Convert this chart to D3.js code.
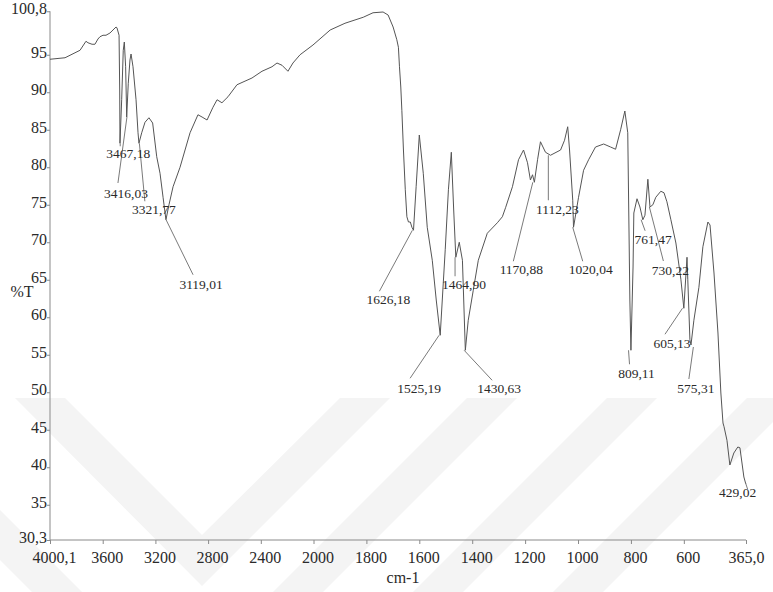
<!DOCTYPE html>
<html>
<head>
<meta charset="utf-8">
<script src="https://cdn.jsdelivr.net/npm/d3@7"></script>
<style>
  html, body { margin: 0; padding: 0; background: #fff; }
  svg, svg text { font-family: "Liberation Serif", "DejaVu Serif", "Times New Roman", serif !important; }
</style>
</head>
<body>
<div id="chart"></div>
<script>
// spectrum: wavenumber (cm-1) and %T
const wavenumber = [
  4000, 3886, 3772, 3727, 3712, 3681, 3659, 3636, 3621, 3598, 3575, 3545, 3499, 3492, 3476, 3471, 3469,
  3456, 3444, 3436, 3426, 3418, 3406, 3393, 3385, 3370, 3347, 3332, 3325, 3304, 3279, 3249, 3221, 3190,
  3165, 3142, 3120, 3097, 3066, 3013, 2937, 2877, 2846, 2808, 2763, 2732, 2695, 2649, 2581, 2467, 2391,
  2315, 2277, 2239, 2194, 2156, 2102, 2004, 1937, 1881, 1812, 1775, 1737, 1718, 1699, 1685, 1679, 1675,
  1670, 1666, 1660, 1653, 1647, 1641, 1634, 1628, 1622, 1612, 1600, 1585, 1570, 1551, 1536, 1521, 1502,
  1490, 1479, 1470, 1462, 1449, 1437, 1426, 1415, 1396, 1377, 1343, 1305, 1286, 1274, 1248, 1225, 1206,
  1191, 1180, 1172, 1165, 1153, 1142, 1123, 1104, 1066, 1051, 1039, 1032, 1020, 1017, 998, 979, 960,
  934, 903, 877, 858, 839, 823, 812, 804, 800, 792, 789, 777, 766, 755, 747, 736, 728, 717, 706, 687,
  675, 664, 649, 630, 611, 600, 588, 585, 577, 573, 562, 543, 528, 509, 501, 486, 471, 460, 452, 448,
  437, 426, 411, 396, 388, 373, 366
];
const transmittance = [
  94.4, 94.6, 95.6, 96.8, 96.6, 96.4, 96.4, 97.1, 97.4, 97.6, 97.6, 97.9, 98.7, 98.6, 97.6, 90.3, 83.2,
  89.0, 95.6, 96.7, 93.4, 86.7, 91.2, 94.3, 95.1, 93.4, 89.0, 84.6, 83.2, 84.6, 86.0, 86.6, 85.9, 81.4,
  79.2, 76.0, 73.0, 75.0, 77.4, 80.0, 84.6, 87.0, 86.7, 86.3, 88.0, 89.0, 88.6, 89.4, 91.0, 91.9, 92.8,
  93.4, 93.9, 93.6, 92.8, 93.9, 95.0, 96.3, 98.3, 99.2, 100.0, 100.6, 100.7, 100.3, 98.7, 97.0, 96.0, 93.4,
  90.7, 87.6, 82.3, 77.0, 73.4, 72.7, 72.7, 72.0, 71.6, 77.4, 84.3, 79.2, 72.0, 67.6, 62.3, 57.6, 69.0,
  77.0, 82.0, 74.3, 68.0, 70.0, 67.6, 55.6, 59.6, 63.6, 67.6, 71.2, 72.6, 73.4, 74.6, 77.4, 81.0, 82.3,
  80.6, 78.3, 79.0, 78.0, 81.0, 83.4, 82.0, 81.6, 82.3, 83.6, 85.4, 82.3, 75.6, 72.0, 76.0, 79.6, 81.0,
  82.7, 83.1, 82.7, 82.4, 85.0, 87.5, 84.6, 62.3, 55.6, 66.7, 73.9, 75.8, 74.7, 73.0, 73.6, 78.4, 74.7, 75.0, 76.0, 76.8,
  76.6, 75.4, 73.0, 69.9, 65.0, 61.2, 68.0, 65.0, 57.0, 56.3, 59.6, 64.0, 69.4, 72.7, 72.3, 65.9, 57.9, 49.9, 45.9, 45.4,
  43.6, 40.3, 41.9, 42.7, 42.6, 38.7, 37.8
];

// peak annotations
const peakWavenumber = [3467.18, 3416.03, 3321.77, 3119.01, 1626.18, 1525.19, 1464.90, 1430.63,
  1170.88, 1112.23, 1020.04, 809.11, 761.47, 730.22, 605.13, 575.31, 429.02];
const peakTransmittance = [83.2, 86.7, 83.2, 73.0, 71.6, 57.6, 68.0, 55.6,
  78.0, 81.6, 72.0, 55.6, 73.0, 74.7, 61.2, 56.3, 40.3];
const peakLabels = ["3467,18", "3416,03", "3321,77", "3119,01", "1626,18", "1525,19", "1464,90", "1430,63",
  "1170,88", "1112,23", "1020,04", "809,11", "761,47", "730,22", "605,13", "575,31", "429,02"];

// axis ticks
const xTicks = [4000.1, 3600, 3200, 2800, 2400, 2000, 1800, 1600, 1400, 1200, 1000, 800, 600, 365.0];
const xTickLabels = ["4000,1", "3600", "3200", "2800", "2400", "2000", "1800", "1600", "1400", "1200", "1000", "800", "600", "365,0"];
const yTicks = [100.8, 95, 90, 85, 80, 75, 70, 65, 60, 55, 50, 45, 40, 35, 30.3];
const yTickLabels = ["100,8", "95", "90", "85", "80", "75", "70", "65", "60", "55", "50", "45", "40", "35", "30,3"];

// label placement: [text dx, text dy, leader from dx, dy, leader to dx, dy] relative to the peak point
const labelLayout = [
  [8, 15, 0, 0, 0, 3], [-1, 81, 0, 0, -9, 66], [14.5, 71, 0, 0, 5.5, 58], [35, 69, 0, 0, 27, 55],
  [-24, 74, 0, 0, -33, 61], [-20, 58, 0, 0, -29, 43], [9, 32, 0, 0, 0, 19], [35, 43, 0, 0, 28, 30],
  [-11.5, 92, 0, 0, -19.5, 79], [9, 59, 0, 0, 0, 45], [18, 47, 0, 0, 10, 34], [8, 28, 0, 0, 1, 14],
  [12, 24, 0, 0, 4, 11], [21, 68, 0, 0, 14, 54], [-10.5, 40, 0, 0, -17.5, 26], [5.5, 48, 3, 2, -1.5, 34],
  [8.5, 32, 16.5, 18, 18.5, 24]
];

const W = 773, H = 592;
const serif = '"Liberation Serif", "DejaVu Serif", serif';
const svg = d3.select("#chart").append("svg")
  .attr("width", W).attr("height", H)
  .attr("viewBox", `0 0 ${W} ${H}`)
  .style("font-family", serif);

// faint watermark chevrons in the lower part
const wm = svg.append("g").attr("fill", "#f4f4f4");
[
  [[15, 398], [65, 398], [202, 535], [340, 398], [390, 398], [202, 586]],
  [[0, 510], [0, 560], [32, 592], [82, 592]],
  [[467, 398], [517, 398], [323, 592], [273, 592]],
  [[607, 398], [657, 398], [463, 592], [413, 592]],
  [[747, 398], [773, 398], [773, 422], [603, 592], [553, 592]]
].forEach(p => wm.append("polygon").attr("points", p.map(d => d.join(",")).join(" ")));

// x axis is expanded 2x below 2000 cm-1
const x = d3.scaleLinear().domain([4000.1, 2000, 365]).range([50, 313.5, 746]);
const y = d3.scaleLinear().domain([30.3, 100.8]).range([540, 11.25]);

const axisColor = "#8a8a8a";
const textColor = "#2a2a2a";

// x axis
const xAxis = svg.append("g").attr("transform", `translate(0,${y(30.3)})`)
  .call(d3.axisBottom(x).tickValues(xTicks).tickSize(4).tickFormat((d, i) => xTickLabels[i]))
  .attr("font-family", serif);
xAxis.select(".domain").attr("stroke", axisColor).attr("d", `M${x(4000.1)},0H${x(365)}`);
xAxis.selectAll(".tick line").attr("stroke", axisColor);
xAxis.selectAll(".tick text")
  .attr("font-size", 16).attr("fill", textColor)
  .attr("y", 12).attr("dy", "0.71em")
  .attr("dx", (d, i) => i === xTicks.length - 1 ? 0 : 4);

// y axis
const yAxis = svg.append("g").attr("transform", `translate(${x(4000.1)},0)`)
  .call(d3.axisLeft(y).tickValues(yTicks).tickSize(3).tickFormat((d, i) => yTickLabels[i]))
  .attr("font-family", serif);
yAxis.select(".domain").attr("stroke", axisColor).attr("d", `M0,${y(100.8)}V${y(30.3)}`);
yAxis.selectAll(".tick line").attr("stroke", axisColor);
yAxis.selectAll(".tick text")
  .attr("font-size", 16).attr("fill", textColor)
  .attr("x", -3).attr("dy", "0.15em");

// axis titles
svg.append("text").attr("x", 403).attr("y", 583).attr("text-anchor", "middle")
  .attr("font-size", 16).attr("fill", textColor).text("cm-1");
svg.append("text").attr("x", 22).attr("y", 297).attr("text-anchor", "middle")
  .attr("font-size", 16).attr("fill", textColor).text("%T");

// spectrum line
const spectrum = wavenumber.map((w, i) => ({ w, t: transmittance[i] }));
svg.append("path")
  .datum(spectrum)
  .attr("fill", "none")
  .attr("stroke", "#555")
  .attr("stroke-width", 1)
  .attr("d", d3.line().x(d => x(d.w)).y(d => y(d.t)));

// peak labels with leader lines
const peaks = peakWavenumber.map((w, i) => ({
  w, t: peakTransmittance[i], label: peakLabels[i], layout: labelLayout[i]
}));
const pg = svg.append("g");
pg.selectAll("line").data(peaks).enter().append("line")
  .attr("x1", d => x(d.w) + d.layout[2]).attr("y1", d => y(d.t) + d.layout[3])
  .attr("x2", d => x(d.w) + d.layout[4]).attr("y2", d => y(d.t) + d.layout[5])
  .attr("stroke", "#7a7a7a").attr("stroke-width", 1);
pg.selectAll("text").data(peaks).enter().append("text")
  .attr("x", d => x(d.w) + d.layout[0]).attr("y", d => y(d.t) + d.layout[1])
  .attr("text-anchor", "middle")
  .attr("font-size", 13.5).attr("fill", textColor)
  .text(d => d.label);
</script>
</body>
</html>
